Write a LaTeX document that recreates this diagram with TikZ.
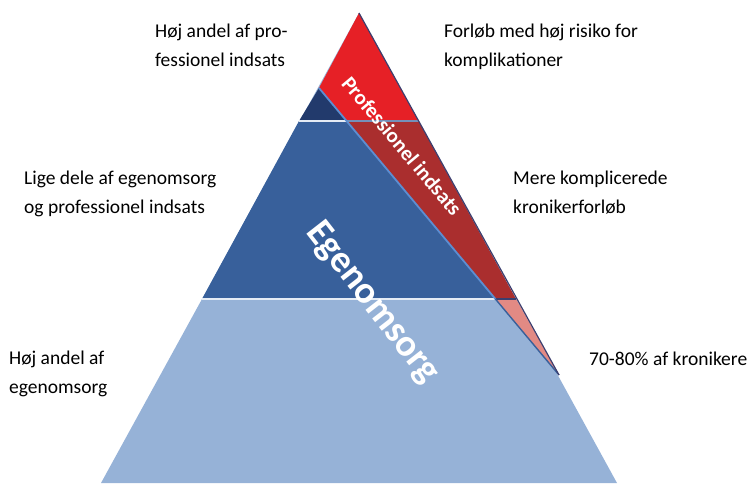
\documentclass[tikz,border=0pt]{standalone}
\usepackage{fontspec}
\setmainfont{Carlito}
\definecolor{careLight}{RGB}{150,178,215}
\definecolor{careMid}{RGB}{56,96,155}
\definecolor{careNavy}{RGB}{34,58,108}
\definecolor{profRed}{RGB}{230,32,38}
\definecolor{profDark}{RGB}{170,46,46}
\definecolor{profPale}{RGB}{226,138,132}
\definecolor{diagBlue}{RGB}{92,142,210}
\definecolor{edgeDark}{RGB}{60,62,110}
\begin{document}
\begin{tikzpicture}[x=1pt,y=-1pt,
	sidetext/.style={anchor=base west,align=left,inner sep=0pt,
		font=\fontsize{19.5}{29}\selectfont},
	bandtext/.style={text=white,inner sep=0pt},
	sepline/.style={line width=1.6pt,draw=white!75!careLight},
	edgeline/.style={line width=1.2pt,draw=edgeDark}]
\useasboundingbox (0,0) rectangle (749,483);
% corners of the pyramid and of its bands
\coordinate (apex) at (359,13);
\coordinate (bl) at (101,483);
\coordinate (br) at (617,483);
\coordinate (split) at (319,88);
\coordinate (tip) at (559,375);
\coordinate (l1) at (299,121);
\coordinate (d1) at (346.6,121);
\coordinate (r1) at (418.5,121);
\coordinate (l2) at (202,299);
\coordinate (d2) at (495.4,299);
\coordinate (r2) at (516,299);
% bands
\fill[careLight] (apex) -- (bl) -- (br) -- cycle;
\fill[careMid] (l1) -- (d1) -- (d2) -- (l2) -- cycle;
\fill[careNavy] (split) -- (d1) -- (l1) -- cycle;
\fill[profRed] (apex) -- (split) -- (d1) -- (r1) -- cycle;
\fill[profDark] (d1) -- (r1) -- (r2) -- (d2) -- cycle;
\fill[profPale] (d2) -- (r2) -- (tip) -- cycle;
\draw[sepline] (l1) -- (d1);
\draw[sepline,draw=careMid!70!white] (d1) -- (r1);
\draw[sepline] (l2) -- (d2);
\draw[edgeline] (d2) -- (r2);
\draw[line width=1.8pt,diagBlue] (split) -- (d2);
\draw[line width=1.4pt,careMid] (d2) -- (tip);
\draw[edgeline] (apex) -- (tip);
% texts in the pyramid
\node[bandtext,rotate=-50,font=\bfseries\fontsize{21}{21}\selectfont] (prof) at (402,146) {Professionel indsats};
\node[bandtext,rotate=-52,font=\bfseries\fontsize{38}{38}\selectfont] (ego) at (372,303) {Egenomsorg};
% side texts
\node[sidetext] (hojprof) at (155,66) {Høj andel af pro-\\fessionel indsats};
\node[sidetext] (forlob) at (444,66) {Forløb med høj risiko for\\komplikationer};
\node[sidetext] (lige) at (24,213) {Lige dele af egenomsorg\\og professionel indsats};
\node[sidetext] (mere) at (513,213) {Mere komplicerede\\kronikerforløb};
\node[sidetext] (hojego) at (9,393) {Høj andel af\\egenomsorg};
\node[sidetext] (pct) at (589,365) {70-80\% af kronikere};
\end{tikzpicture}
\end{document}
